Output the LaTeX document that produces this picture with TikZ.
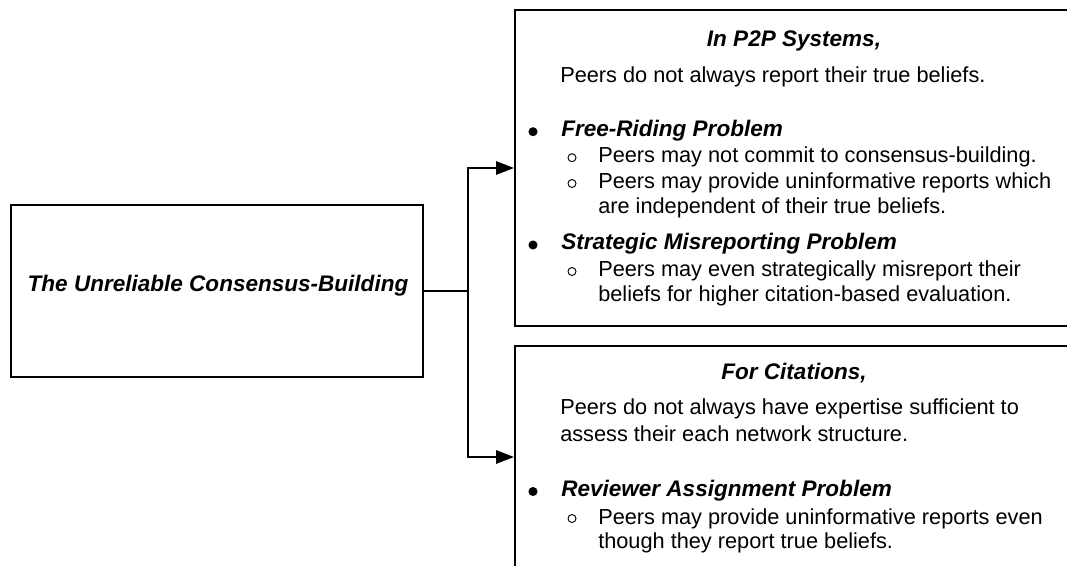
\documentclass[tikz,border=0pt]{standalone}
\usepackage{fontspec}
\setmainfont{Liberation Sans}
\usetikzlibrary{arrows.meta}
\begin{document}
\begin{tikzpicture}[x=0.75pt,y=-0.75pt,
  frame/.style={draw=black, line width=1.5pt, inner sep=0pt, fill=white},
  body/.style={inner sep=0pt, anchor=base west, font=\fontsize{16.3}{19}\selectfont},
  head/.style={inner sep=0pt, font=\fontsize{16.9}{20}\selectfont\bfseries\itshape},
  link/.style={line width=1.5pt},
  arrow/.style={link, -{Triangle[length=13.5pt,width=10pt]}},
  ring/.style={draw=black, line width=0.7pt}]
\clip (0,0) rectangle (1067,566);

% the three boxes
\node[frame, minimum width=309pt, minimum height=129pt] (cause) at (217,291) {};
\node[frame, minimum width=418.5pt, minimum height=237pt] (p2p) at (794,168) {};
\node[frame, minimum width=418.5pt, minimum height=166.5pt] (cit) at (794,457) {};

% connectors
\coordinate (fork) at (468,291);
\draw[link] (cause.east) -- (fork);
\draw[arrow] (fork) |- (p2p.west);
\draw[arrow] (fork) |- (cit.west);

% left box
\node[head, anchor=base] (causetext) at (218,291.7) {The Unreliable Consensus-Building};

% P2P systems
\node[head, anchor=base] (p2ptitle) at (794,46.5) {In P2P Systems,};
\node[body] (p2pintro) at (560,83) {Peers do not always report their true beliefs.};
\fill (533,131.7) circle (3.4pt);
\node[head, anchor=base west] (freeriding) at (561,136.7) {Free-Riding Problem};
\draw[ring] (572,157.7) circle (3pt);
\node[body] (fr1) at (598,163) {Peers may not commit to consensus-building.};
\draw[ring] (572,183.5) circle (3pt);
\node[body] (fr2) at (598,189) {Peers may provide uninformative reports which};
\node[body] (fr3) at (598,214) {are independent of their true beliefs.};
\fill (533,245) circle (3.4pt);
\node[head, anchor=base west] (misrep) at (561,250) {Strategic Misreporting Problem};
\draw[ring] (572,271.5) circle (3pt);
\node[body] (mr1) at (598,277) {Peers may even strategically misreport their};
\node[body] (mr2) at (598,302) {beliefs for higher citation-based evaluation.};

% citations
\node[head, anchor=base] (cittitle) at (794,379) {For Citations,};
\node[body] (citintro1) at (560,415) {Peers do not always have expertise sufficient to};
\node[body] (citintro2) at (560,441.5) {assess their each network structure.};
\fill (533,491.5) circle (3.4pt);
\node[head, anchor=base west] (assign) at (561,496.5) {Reviewer Assignment Problem};
\draw[ring] (572,518.5) circle (3pt);
\node[body] (ra1) at (598,524) {Peers may provide uninformative reports even};
\node[body] (ra2) at (598,548.5) {though they report true beliefs.};
\end{tikzpicture}
\end{document}
